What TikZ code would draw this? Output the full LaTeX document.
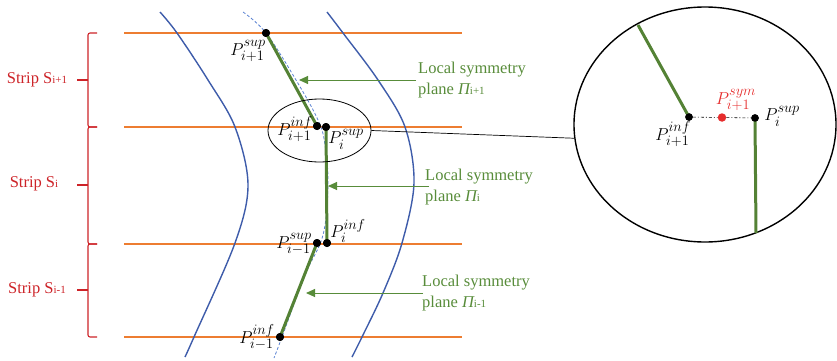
\documentclass[tikz,border=0pt]{standalone}
\usepackage{fontspec}
\setmainfont{Liberation Serif}
\usetikzlibrary{shapes.geometric,arrows.meta}

% larger scripts for the point labels
\DeclareMathSizes{18}{18}{13.5}{10}

\definecolor{stripline}{HTML}{ED7D31}
\definecolor{wallblue}{RGB}{62,92,170}
\definecolor{axisblue}{RGB}{90,130,210}
\definecolor{planegreen}{RGB}{84,130,53}
\definecolor{labelgreen}{RGB}{88,140,58}
\definecolor{stripred}{RGB}{205,35,40}
\definecolor{symred}{RGB}{230,45,45}

% smaller index text next to a symbol
\newcommand\idx[1]{{\fontsize{11}{11}\selectfont #1}}

\begin{document}
\begin{tikzpicture}[x=1pt,y=-1pt,
  font=\fontsize{16.5}{21}\selectfont,
  strip/.style={stripline, line width=1.1pt},
  wall/.style={wallblue, line width=1.4pt},
  medial/.style={axisblue, line width=0.8pt, dash pattern=on 3pt off 2pt},
  plane/.style={planegreen, line width=3pt},
  pt/.style={circle, fill=black, inner sep=0pt, minimum size=8pt},
  symdot/.style={circle, fill=symred, inner sep=0pt, minimum size=8.5pt},
  mlabel/.style={inner sep=0pt, font=\fontsize{18}{21}\selectfont},
  pointer/.style={labelgreen, line width=1pt, -{Triangle[length=9pt,width=8pt]}},
  planetext/.style={labelgreen, anchor=west, align=left, inner sep=0pt},
  brace/.style={stripred, line width=1.1pt, rounded corners=2pt},
  striptext/.style={stripred, inner sep=0pt}
]
\useasboundingbox (0,0) rectangle (837,361);

% strip boundaries
\foreach \y in {33,127,244,337}
  \draw[strip] (124,\y) -- (462,\y);

% channel walls
\draw[wall] plot[smooth, tension=0.55] coordinates
  {(160,12) (177,33) (208,80) (235,127) (248,185) (235,243) (194,337) (185,357)};
\draw[wall] plot[smooth, tension=0.55] coordinates
  {(327,12) (343,33) (378,80) (405,127) (414,183) (402,243) (383,293) (362,337) (352,357)};

% medial axis
\draw[medial] plot[smooth, tension=0.6] coordinates
  {(243,12) (266,33) (296,80) (318,120) (325,145) (328,185) (323,235) (305,275) (282,337) (274,358)};

% sample points
\node[pt] (sA) at (266,33) {};
\node[pt] (iA) at (317,126) {};
\node[pt] (sB) at (326,127) {};
\node[pt] (iB) at (327,243) {};
\node[pt] (sC) at (317,243) {};
\node[pt] (iC) at (280,337) {};

% local symmetry planes
\draw[plane] (sA.center) -- (iA.center);
\draw[plane] (sB.center) -- (iB.center);
\draw[plane] (sC.center) -- (iC.center);
\node[pt] at (sA) {};
\node[pt] at (iA) {};
\node[pt] at (sB) {};
\node[pt] at (iB) {};
\node[pt] at (sC) {};
\node[pt] at (iC) {};

% point labels
\node[mlabel] (lsA) at (248,51) {$P_{i+1}^{sup}$};
\node[mlabel] (liA) at (295,129) {$P_{i+1}^{inf}$};
\node[mlabel] (lsB) at (346,139) {$P_{i}^{sup}$};
\node[mlabel] (liB) at (348,231) {$P_{i}^{inf}$};
\node[mlabel] (lsC) at (294,244) {$P_{i-1}^{sup}$};
\node[mlabel] (liC) at (257,337) {$P_{i-1}^{inf}$};

% plane annotations
\coordinate (tA) at (416,80);  \coordinate (hA) at (299,80);
\coordinate (tB) at (429,186); \coordinate (hB) at (328,186);
\coordinate (tC) at (423,293); \coordinate (hC) at (306,293);
\draw[pointer] (tA) -- (hA);
\draw[pointer] (tB) -- (hB);
\draw[pointer] (tC) -- (hC);
\node[planetext] (nA) at (418,80) {Local symmetry\\plane {\itshape Π}\idx{i+1}};
\node[planetext] (nB) at (425,187) {Local symmetry\\plane {\itshape Π}\idx{i}};
\node[planetext] (nC) at (422,293) {Local symmetry\\plane {\itshape Π}\idx{i-1}};

% strip braces
\draw[brace] (97,33) -- (88,33) -- (88,127) -- (97,127);
\draw[brace] (97,127) -- (88,127) -- (88,244) -- (97,244);
\draw[brace] (97,244) -- (88,244) -- (88,337) -- (97,337);
\draw[stripred, line width=1.1pt] (88,80) -- (77,80);
\draw[stripred, line width=1.1pt] (88,185) -- (77,185);
\draw[stripred, line width=1.1pt] (88,290) -- (77,290);
\node[striptext] (sa) at (37,80) {Strip S\idx{i+1}};
\node[striptext] (sb) at (34,184) {Strip S\idx{i}};
\node[striptext] (sc) at (37,290) {Strip S\idx{i-1}};

% magnified junction
\node[draw, ellipse, line width=0.8pt, inner sep=0pt,
      minimum width=103pt, minimum height=63pt] (zoomA) at (319.5,130.5) {};
\node[draw, ellipse, line width=1.4pt, inner sep=0pt,
      minimum width=262pt, minimum height=235pt] (zoomB) at (705,124.5) {};
\draw[line width=0.7pt] (zoomA.east) -- (zoomB.186.5);

\coordinate (gA) at (638,25);
\coordinate (gB) at (756,233);
\node[pt, minimum size=7.5pt] (ziA) at (689,117) {};
\node[pt, minimum size=7.5pt] (zsB) at (755,118) {};
\node[symdot] (zsym) at (722,117.5) {};
\draw[black, line width=0.6pt, dash pattern=on 3pt off 2pt on 1pt off 2pt]
  (ziA) -- (zsym) -- (zsB);
\draw[plane] (gA) -- (ziA.center);
\draw[plane] (zsB.center) -- (gB);
\node[pt, minimum size=7.5pt] at (ziA) {};
\node[pt, minimum size=7.5pt] at (zsB) {};
\node[mlabel, text=symred] (lsym) at (736,100) {$P_{i+1}^{sym}$};
\node[mlabel] (lzi) at (673,134) {$P_{i+1}^{inf}$};
\node[mlabel] (lzs) at (782,116) {$P_{i}^{sup}$};
\end{tikzpicture}
\end{document}
